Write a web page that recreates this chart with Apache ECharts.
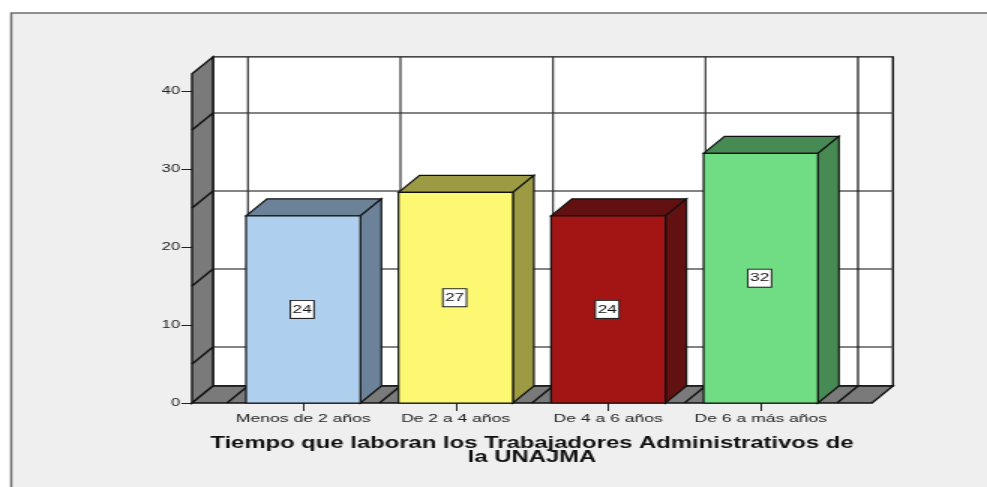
<!DOCTYPE html>
<html>
<head>
<meta charset="utf-8">
<style>
html, body { margin: 0; padding: 0; background: #fff; overflow: hidden; }
/* the reference is a picture stretched sideways, so the whole chart is too */
#chart { width: 658px; height: 487px; transform-origin: 0 0; transform: scaleX(1.5); }
</style>
<script src="https://cdn.jsdelivr.net/npm/echarts@6/dist/echarts.min.js"></script>
</head>
<body>
<div id="chart"></div>
<script>
var categories = ['Menos de 2 años', 'De 2 a 4 años', 'De 4 a 6 años', 'De 6 a más años']
var values = [24, 27, 24, 32]
var yTicks = [0, 10, 20, 30, 40]
var wallLines = [5, 15, 25, 35]
var wallTop = 42.2
var xTitle = 'Tiempo que laboran los Trabajadores Administrativos de\nla UNAJMA'

var frontColors = ['#aed0ee', '#fdf872', '#a31515', '#70dd85']
var sideColors = ['#6b8299', '#9c9a43', '#631010', '#488a53']

var font = '"Liberation Sans", Arial, sans-serif'
var depthX = 14
var depthY = -17
var wallPad = 23.3
var barRatio = 0.75
var wallGray = '#7a7a7a'
var gridGray = '#5a5a5a'

function renderWalls(params, api) {
    var band = api.size([1, 0])[0]
    var xL = api.coord([0, 0])[0] - band / 2 - wallPad
    var xR = api.coord([categories.length - 1, 0])[0] + band / 2 + wallPad
    var y0 = api.coord([0, 0])[1]
    var yT = api.coord([0, wallTop])[1]
    var edge = { stroke: '#111', lineWidth: 1.4 }
    var kids = []

    kids.push({
        type: 'rect',
        shape: { x: xL + depthX, y: yT + depthY, width: xR - xL, height: y0 - yT },
        style: { fill: '#fff', stroke: '#111', lineWidth: 1.4 },
    })
    // gridlines on the back wall, running on over the left wall as diagonals
    wallLines.forEach(function (v) {
        var y = api.coord([0, v])[1]
        kids.push({
            type: 'line',
            shape: { x1: xL + depthX, y1: y + depthY, x2: xR + depthX, y2: y + depthY },
            style: { stroke: gridGray, lineWidth: 1.4 },
        })
    })
    for (var i = 0; i <= categories.length; i++) {
        var x = api.coord([0, 0])[0] - band / 2 + band * i
        kids.push({
            type: 'line',
            shape: { x1: x + depthX, y1: yT + depthY, x2: x + depthX, y2: y0 + depthY },
            style: { stroke: i === categories.length ? '#111' : '#333', lineWidth: 1.2 },
        })
    }
    kids.push({
        type: 'polygon',
        shape: { points: [[xL, y0], [xL + depthX, y0 + depthY], [xL + depthX, yT + depthY], [xL, yT]] },
        style: { fill: wallGray, stroke: '#111', lineWidth: 1.4 },
    })
    wallLines.forEach(function (v) {
        var y = api.coord([0, v])[1]
        kids.push({
            type: 'line',
            shape: { x1: xL, y1: y, x2: xL + depthX, y2: y + depthY },
            style: edge,
        })
    })
    kids.push({
        type: 'polygon',
        shape: { points: [[xL, y0], [xL + depthX, y0 + depthY], [xR + depthX, y0 + depthY], [xR, y0]] },
        style: { fill: wallGray, stroke: '#111', lineWidth: 1.4 },
    })
    for (var j = 0; j <= categories.length; j++) {
        var fx = api.coord([0, 0])[0] - band / 2 + band * j
        kids.push({
            type: 'line',
            shape: { x1: fx, y1: y0, x2: fx + depthX, y2: y0 + depthY },
            style: edge,
        })
    }
    return { type: 'group', children: kids }
}

function renderBar(params, api) {
    var idx = api.value(0)
    var val = api.value(1)
    var top = api.coord([idx, val])
    var base = api.coord([idx, 0])
    var w = api.size([1, 0])[0] * barRatio
    var x1 = top[0] - w / 2
    var x2 = top[0] + w / 2
    var edge = { stroke: '#111', lineWidth: 1.2 }
    return {
        type: 'group',
        children: [
            {
                type: 'polygon',
                shape: { points: [[x1, top[1]], [x1 + depthX, top[1] + depthY], [x2 + depthX, top[1] + depthY], [x2, top[1]]] },
                style: Object.assign({ fill: sideColors[idx] }, edge),
            },
            {
                type: 'polygon',
                shape: { points: [[x2, top[1]], [x2 + depthX, top[1] + depthY], [x2 + depthX, base[1] + depthY], [x2, base[1]]] },
                style: Object.assign({ fill: sideColors[idx] }, edge),
            },
            {
                type: 'rect',
                shape: { x: x1, y: top[1], width: w, height: base[1] - top[1] },
                style: Object.assign({ fill: frontColors[idx] }, edge),
            },
            {
                type: 'text',
                style: {
                    x: top[0] - 0.7,
                    y: (top[1] + base[1]) / 2,
                    text: String(val),
                    align: 'center',
                    verticalAlign: 'middle',
                    font: '11.5px ' + font,
                    fill: '#111',
                    backgroundColor: '#fff',
                    borderColor: '#222',
                    borderWidth: 1,
                    padding: [3, 1, 2, 1],
                },
            },
        ],
    }
}

var chart = echarts.init(document.getElementById('chart'))
chart.setOption({
    animation: false,
    graphic: [
        {
            type: 'rect',
            z: -10,
            shape: { x: 7.5, y: 13, width: 700, height: 500 },
            style: { fill: '#efefef', stroke: '#6e6e6e', lineWidth: 1.5 },
        },
    ],
    grid: { left: 151.3, right: 100, top: 91, bottom: 84 },
    xAxis: {
        type: 'category',
        data: categories,
        name: xTitle,
        nameLocation: 'middle',
        nameGap: 34,
        nameTextStyle: {
            fontFamily: font,
            fontSize: 15.9,
            fontWeight: 'bold',
            color: '#111',
            lineHeight: 14,
        },
        axisLine: { show: false },
        axisTick: { show: true, alignWithLabel: true, length: 8, lineStyle: { color: '#222', width: 1 } },
        axisLabel: { fontFamily: font, fontSize: 11.7, color: '#222', margin: 10, interval: 0 },
    },
    yAxis: {
        type: 'value',
        min: yTicks[0],
        max: yTicks[yTicks.length - 1],
        interval: 10,
        offset: 23.3,
        axisLine: { show: false },
        axisTick: { show: true, length: 7, lineStyle: { color: '#222', width: 1 } },
        axisLabel: { fontFamily: font, fontSize: 11, color: '#222', margin: 8, padding: [2, 0, 0, 0] },
        splitLine: { show: false },
    },
    series: [
        {
            type: 'custom',
            name: 'walls',
            silent: true,
            z: 1,
            renderItem: renderWalls,
            data: [[0, 0]],
            encode: { x: 0, y: 1 },
        },
        {
            type: 'custom',
            name: 'Trabajadores',
            z: 2,
            renderItem: renderBar,
            data: values.map(function (v, i) { return [i, v] }),
            encode: { x: 0, y: 1 },
        },
    ],
})
</script>
</body>
</html>
